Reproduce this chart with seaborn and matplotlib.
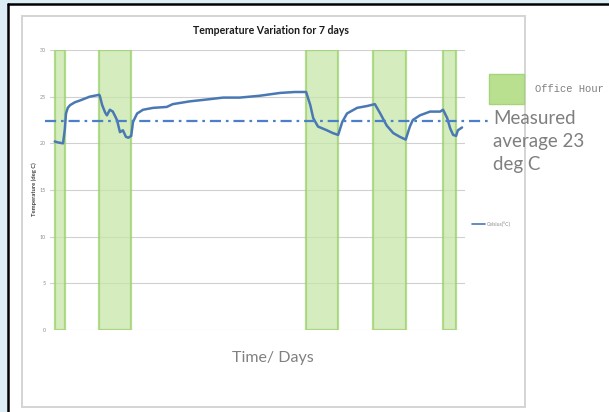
import matplotlib
matplotlib.use("Agg")
import matplotlib.pyplot as plt
import matplotlib.patches as mpatches
from matplotlib.lines import Line2D
import seaborn as sns
import pandas as pd

# ---- data (time in days, temperature in deg C) ----
time_days = [0.08, 0.13, 0.22, 0.25, 0.27, 0.30, 0.34, 0.42, 0.51, 0.67, 0.83,
             0.84, 0.88, 0.93, 0.96, 1.01, 1.06, 1.13, 1.18, 1.23, 1.28, 1.32,
             1.37, 1.40, 1.47, 1.57, 1.74, 1.97, 2.07, 2.36, 2.65, 2.92, 3.20,
             3.54, 3.88, 4.13, 4.32, 4.39, 4.44, 4.52, 4.67, 4.77, 4.86, 4.93,
             5.01, 5.18, 5.35, 5.48, 5.57, 5.68, 5.79, 5.90, 6.00, 6.07, 6.12,
             6.24, 6.41, 6.58, 6.63, 6.70, 6.75, 6.80, 6.85, 6.88, 6.95]
temperature = [20.2, 20.1, 20.0, 21.5, 23.2, 23.8, 24.1, 24.4, 24.6, 25.0, 25.2,
               25.1, 24.1, 23.3, 23.0, 23.6, 23.4, 22.5, 21.2, 21.4, 20.7, 20.6,
               20.8, 22.3, 23.2, 23.6, 23.8, 23.9, 24.2, 24.5, 24.7, 24.9, 24.9,
               25.1, 25.4, 25.5, 25.5, 24.1, 22.7, 21.8, 21.4, 21.1, 20.9, 22.3,
               23.2, 23.8, 24.0, 24.2, 23.2, 21.9, 21.1, 20.7, 20.4, 21.8, 22.5,
               23.0, 23.4, 23.4, 23.6, 22.7, 21.6, 20.9, 20.8, 21.4, 21.7]
office_start = [0.08, 0.83, 4.32, 5.45, 6.63]
office_end = [0.25, 1.37, 4.86, 6.00, 6.85]
bar_height = 30
measured_avg = 22.4
y_ticks = [0, 5, 10, 15, 20, 25, 30]

title = "Temperature Variation for 7 days"
y_label = "Temperature (deg C)"
x_label = "Time/ Days"
series_label = "Celsius(°C)"
office_label = "Office Hour"
avg_label = "Measured\naverage 23\ndeg C"

sns.set_style("white")
plt.rcParams['font.family'] = ['Lato', 'DejaVu Sans']

W, H = 609, 412
fig = plt.figure(figsize=(W / 100, H / 100), dpi=100)
fig.patch.set_facecolor("#dcedf5")

def fx(px):
    return px / W

def fy(py):
    return 1 - py / H

# white screen area with black borders
fig.patches.append(mpatches.Rectangle((fx(8), 0), 1 - fx(8), fy(4), transform=fig.transFigure,
                                      facecolor="white", edgecolor="none", zorder=-3))
fig.add_artist(Line2D([fx(8), fx(8)], [0, fy(4)], color="black", lw=1.8,
                      transform=fig.transFigure, zorder=-1))
fig.add_artist(Line2D([fx(8), 1], [fy(4), fy(4)], color="black", lw=1.8,
                      transform=fig.transFigure, zorder=-1))
# chart frame
fig.patches.append(mpatches.Rectangle((fx(22), fy(407)), fx(525 - 22), (407 - 16) / H,
                                      transform=fig.transFigure, facecolor="white",
                                      edgecolor="#d4d4d4", lw=1.4, zorder=-2))

ax = fig.add_axes([fx(50), fy(330), fx(465 - 50), (330 - 50) / H])
ax.set_facecolor("none")

# office-hour bars
widths = [e - s for s, e in zip(office_start, office_end)]
ax.bar(office_start, [bar_height] * len(office_start), width=widths, align="edge",
       color="#c6e6a8", alpha=0.75, edgecolor="#9bd06a", linewidth=1.6, zorder=2)

df = pd.DataFrame({"day": time_days, "temp": temperature})
sns.lineplot(data=df, x="day", y="temp", ax=ax, color="#4a78b4", lw=1.8, zorder=3,
             legend=False)

ax.plot([-0.09, 7.42], [measured_avg, measured_avg], color="#4b7fc7", lw=1.6,
        dashes=(5, 2.2, 1.2, 2.2), clip_on=False, zorder=4)

ax.set_xlim(0, 7)
ax.set_ylim(0, 30)
ax.set_yticks(y_ticks)
ax.set_yticklabels([str(t) for t in y_ticks], fontsize=3.8, color="#8c8c8c")
ax.tick_params(axis="y", length=0, pad=3)
ax.set_xticks([])
ax.yaxis.grid(True, color="#d0d0d0", lw=0.8)
ax.set_axisbelow(True)
for s in ax.spines.values():
    s.set_visible(False)
ax.set_xlabel("")
ax.set_ylabel("")

# texts
fig.text(fx(271), fy(30), title, ha="center", va="center", fontsize=7.6,
         fontweight="bold", color="#1a1a1a")
fig.text(fx(34), fy(189), y_label, ha="center", va="center", rotation=90,
         fontsize=4.2, fontweight="bold", color="#404040")
fig.text(fx(273), fy(358), x_label, ha="center", va="center", fontsize=11.5,
         color="#808080")

# small series legend
fig.add_artist(Line2D([fx(472), fx(485)], [fy(224), fy(224)], color="#4a78b4", lw=1.2,
                      transform=fig.transFigure))
fig.text(fx(487), fy(224), series_label, ha="left", va="center", fontsize=3.6,
         color="#8c8c8c")

# office-hour legend
fig.patches.append(mpatches.Rectangle((fx(489), fy(104)), fx(35), 30 / H,
                                      transform=fig.transFigure, facecolor="#b9e08f",
                                      edgecolor="#a6d47a", lw=1, zorder=3))
fig.text(fx(535), fy(89), office_label, ha="left", va="center", fontsize=7.6,
         color="#808080", family=["Liberation Mono", "DejaVu Sans Mono"])

fig.text(fx(493), fy(110), avg_label, ha="left", va="top", fontsize=13.5,
         color="#7f7f7f", linespacing=1.42)

fig.savefig("out.png", dpi=100, facecolor=fig.get_facecolor())
